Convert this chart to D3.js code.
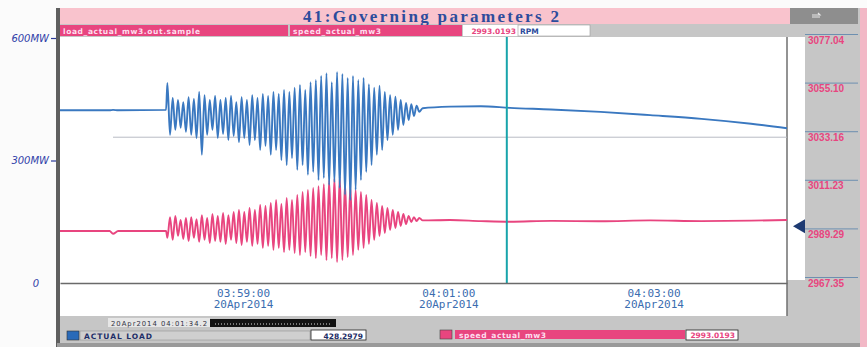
<!DOCTYPE html>
<html><head><meta charset="utf-8">
<script src="https://cdn.jsdelivr.net/npm/d3@7"></script>
<style>body{margin:0;background:#fbfbfb;} svg{display:block;}</style>
</head><body><svg id="c" width="867" height="347"></svg>
<script>
// ---------- data ----------
const title = "41:Governing parameters 2";
const loadName = "load_actual_mw3.out.sample";
const speedName = "speed_actual_mw3";
const speedUnit = "RPM";
const loadLegend = "ACTUAL LOAD";
const cursorStamp = "20Apr2014 04:01:34.2";
const cursorTime = "04:01:34.2";
const loadCursorValue = "428.2979";
const speedCursorValue = "2993.0193";
const xTickTimes = ["03:59:00", "04:01:00", "04:03:00"];
const xTickDate = "20Apr2014";
const leftTicks = [0, 300, 600];
const leftTickLabels = ["0", "300MW", "600MW"];
const rightTicks = [3077.04, 3055.10, 3033.16, 3011.23, 2989.29, 2967.35];
const gridSpeed = 3033.16;
const timeDomain = ["03:57:13", "04:04:18"];
const loadDomain = [0, 600];
const speedDomain = [2967.35, 3077.04];

const preTimes = ["03:57:13", "03:57:42", "03:57:44", "03:57:47", "03:58:15"];
const bluePre = [423, 423, 424, 423, 424];
const pinkPre = [2990.8, 2990.8, 2989.6, 2990.8, 2990.8];

const oscStart = "03:58:15";
const oscPeriod = 3.1; // seconds per cycle
const bluePeaks = [490,453,448,443,455,451,468,460,448,458,448,453,458,443,455,448,460,453,463,458,468,463,473,468,478,485,473,492,497,507,514,492,517,512,502,507,497,502,487,478,483,468,460,456,448,441,438,434];
const blueTroughs = [363,375,380,370,363,355,314,363,375,355,365,350,360,345,355,338,350,326,336,314,326,301,289,306,277,289,265,272,252,257,240,247,233,216,203,228,252,272,289,314,326,350,363,375,387,399,409,419];
const pinkPeaks = [2997.1,2997.6,2995.8,2996.7,2997.1,2996.2,2998.0,2996.7,2998.5,2997.6,2999.0,2998.0,2999.4,3000.3,2999.4,3001.2,3000.3,3002.6,3002.1,3003.5,3004.8,3003.0,3005.7,3004.8,3007.1,3008.4,3009.3,3010.2,3011.1,3012.0,3013.8,3014.7,3015.6,3012.5,3011.1,3009.3,3008.4,3007.1,3004.8,3003.5,3002.1,3001.2,3000.3,2999.4,2998.5,2997.6,2997.1,2996.7];
const pinkTroughs = [2987.7,2986.8,2988.6,2987.2,2986.3,2987.7,2985.9,2986.8,2985.4,2986.3,2985.9,2985.0,2986.8,2985.4,2984.5,2985.9,2984.1,2985.0,2983.2,2984.1,2982.3,2983.2,2981.3,2982.3,2980.9,2980.0,2981.3,2979.5,2978.6,2980.0,2977.7,2978.6,2976.8,2977.7,2979.1,2980.0,2982.3,2983.2,2985.0,2986.8,2988.6,2989.9,2991.3,2992.2,2993.1,2994.0,2994.9,2995.3];

const postTimes = ["04:00:45","04:01:01","04:01:19","04:01:36","04:02:00","04:02:29","04:02:58","04:03:28","04:03:57","04:04:18"];
const bluePost = [428, 432, 433, 429, 425, 419, 411, 402, 390, 379];
const pinkPost = [2995.6, 2995.8, 2995.3, 2995.0, 2995.4, 2995.2, 2995.6, 2995.3, 2995.5, 2995.8];

// ---------- helpers ----------
function T(s) {
  const [h, m, sec] = s.split(":");
  const secs = parseFloat(sec);
  return new Date(2014, 3, 20, +h, +m, Math.floor(secs), Math.round((secs - Math.floor(secs)) * 1000));
}
function build(preV, peaks, troughs, postV, anti) {
  const pts = preTimes.map((t, i) => [T(t), preV[i]]);
  const t0 = T(oscStart).getTime();
  peaks.forEach((p, i) => {
    const a = new Date(t0 + (i * oscPeriod + oscPeriod * 0.25) * 1000);
    const b = new Date(t0 + (i * oscPeriod + oscPeriod * 0.75) * 1000);
    if (anti) { pts.push([a, troughs[i]]); pts.push([b, p]); }
    else { pts.push([a, p]); pts.push([b, troughs[i]]); }
  });
  postTimes.forEach((t, i) => pts.push([T(t), postV[i]]));
  return pts;
}

// ---------- layout ----------
const svg = d3.select("#c");
const PX0 = 60, PX1 = 787, PY0 = 37, PY1 = 283;
const x = d3.scaleTime().domain(timeDomain.map(T)).range([PX0, PX1]);
const yL = d3.scaleLinear().domain(loadDomain).range([283, 38]);
const yR = d3.scaleLinear().domain(speedDomain).range([283, 40]);
const PINK = "#e8457f", BLUE = "#3a78c0", FRAME = "#c6c6c6";

// window frame
svg.append("rect").attr("x", 57).attr("y", 8).attr("width", 803).attr("height", 339).attr("fill", FRAME);
svg.append("rect").attr("x", 860).attr("y", 8).attr("width", 7).attr("height", 339).attr("fill", "#f2b8c6");
// title bar
svg.append("rect").attr("x", 60).attr("y", 8).attr("width", 730).attr("height", 16).attr("fill", "#f9c3cd");
svg.append("text").attr("x", 431).attr("y", 21.5).attr("text-anchor", "middle")
  .attr("font-family", "Liberation Serif, DejaVu Serif, serif").attr("font-weight", "bold")
  .attr("font-size", 17).attr("fill", "#2c4c9c").attr("textLength", 256).attr("lengthAdjust", "spacing").text(title);
svg.append("rect").attr("x", 790).attr("y", 8).attr("width", 68).attr("height", 16).attr("fill", "#8e8e8e");
svg.append("path").attr("d", "M812,15 h8 l-2,-2 M812,17 h8").attr("stroke", "#e8e8e8").attr("stroke-width", 1.2).attr("fill", "none");

// second row
const small = g => g.attr("font-family", "DejaVu Sans, sans-serif").attr("font-weight", "bold").attr("font-size", 7.5);
svg.append("rect").attr("x", 60).attr("y", 25).attr("width", 228).attr("height", 11).attr("fill", PINK);
small(svg.append("text").attr("x", 63).attr("y", 33.5).attr("fill", "#fde").attr("textLength", 137).text(loadName));
svg.append("rect").attr("x", 290).attr("y", 25).attr("width", 172).attr("height", 11).attr("fill", PINK);
small(svg.append("text").attr("x", 293).attr("y", 33.5).attr("fill", "#fde").attr("textLength", 88).text(speedName));
svg.append("rect").attr("x", 463).attr("y", 25).attr("width", 55).attr("height", 11).attr("fill", "#fff");
small(svg.append("text").attr("x", 516).attr("y", 33.5).attr("text-anchor", "end").attr("fill", PINK).text(speedCursorValue));
svg.append("rect").attr("x", 518).attr("y", 25).attr("width", 72).attr("height", 11).attr("fill", "#fff").attr("stroke", "#999").attr("stroke-width", 0.6);
small(svg.append("text").attr("x", 520).attr("y", 33.5).attr("fill", "#2c4c9c").text(speedUnit));

// plot background
svg.append("rect").attr("x", PX0).attr("y", PY0).attr("width", PX1 - PX0).attr("height", 316 - PY0).attr("fill", "#fff");
svg.append("rect").attr("x", PX1).attr("y", PY0).attr("width", 18).attr("height", 243).attr("fill", "#fff");
svg.append("line").attr("x1", PX1).attr("x2", PX1).attr("y1", PY0).attr("y2", 316).attr("stroke", "#6f6f6f").attr("stroke-width", 1.5);
svg.append("rect").attr("x", 56).attr("y", 8).attr("width", 4).attr("height", 339).attr("fill", "#5f5f5f");

// grid reference line
svg.append("line").attr("x1", 113).attr("x2", PX1).attr("y1", yR(gridSpeed)).attr("y2", yR(gridSpeed))
  .attr("stroke", "#b9bcc4").attr("stroke-width", 1);

// lines
svg.append("clipPath").attr("id", "clip").append("rect").attr("x", PX0).attr("y", PY0).attr("width", PX1 - PX0).attr("height", PY1 - PY0);
const gLines = svg.append("g").attr("clip-path", "url(#clip)");
const lineL = d3.line().x(d => x(d[0])).y(d => yL(d[1])).curve(d3.curveMonotoneX);
const lineR = d3.line().x(d => x(d[0])).y(d => yR(d[1])).curve(d3.curveMonotoneX);
gLines.append("path").datum(build(pinkPre, pinkPeaks, pinkTroughs, pinkPost, true))
  .attr("d", lineR).attr("fill", "none").attr("stroke", PINK).attr("stroke-width", 1.9).attr("stroke-linejoin", "round");
gLines.append("path").datum(build(bluePre, bluePeaks, blueTroughs, bluePost, false))
  .attr("d", lineL).attr("fill", "none").attr("stroke", BLUE).attr("stroke-width", 1.9).attr("stroke-linejoin", "round");

// cursor
const cx = x(T(cursorTime));
svg.append("line").attr("x1", cx).attr("x2", cx).attr("y1", PY0).attr("y2", PY1).attr("stroke", "#18a4ab").attr("stroke-width", 2);

// x axis
const gx = svg.append("g").attr("transform", `translate(0,${PY1})`)
  .call(d3.axisBottom(x).tickValues(xTickTimes.map(T)).tickSize(0).tickPadding(6).tickFormat(d3.timeFormat("%H:%M:%S")));
gx.select(".domain").attr("stroke", "#6a6a6a").attr("stroke-width", 1.6);
gx.selectAll(".tick text").attr("font-family", "DejaVu Sans Mono, monospace").attr("font-size", 11).attr("fill", "#3b6db0")
  .each(function () {
    const t = d3.select(this); const s = t.text(); t.text(null);
    t.append("tspan").attr("x", 0).text(s);
    t.append("tspan").attr("x", 0).attr("dy", "1.05em").text(xTickDate);
  });

// left axis (hand-written annotations)
const gl = svg.append("g").attr("transform", "translate(56,0)")
  .call(d3.axisLeft(yL).tickValues(leftTicks).tickSize(5).tickPadding(2).tickFormat((d, i) => leftTickLabels[i]));
gl.select(".domain").remove();
gl.selectAll(".tick line").attr("stroke", "#2b3a9a").attr("stroke-width", 1.2).filter(d => d === 0).remove();
gl.selectAll(".tick text").attr("font-family", "DejaVu Sans, sans-serif").attr("font-style", "italic")
  .attr("font-size", 10).attr("fill", "#3040a8").filter(d => d === 0).attr("dx", -10);

// right axis
svg.append("rect").attr("x", 805).attr("y", 24).attr("width", 53).attr("height", 292).attr("fill", FRAME);
const gr = svg.append("g").attr("transform", "translate(805,0)")
  .call(d3.axisRight(yR).tickValues(rightTicks).tickSize(0).tickPadding(3).tickFormat(d3.format(".2f")));
gr.select(".domain").remove();
gr.selectAll(".tick text").attr("font-family", "Liberation Sans, Arial, sans-serif").attr("font-weight", "bold")
  .attr("font-size", 10).attr("fill", PINK);
gr.selectAll(".tick").append("line").attr("x1", 0).attr("x2", 53).attr("y1", -6).attr("y2", -6)
  .attr("stroke", "#6d8fb0").attr("stroke-width", 1);
// speed marker triangle
const my = yR(speedCursorValue);
svg.append("path").attr("d", `M793,${my} L805,${my - 7} L805,${my + 7} Z`).attr("fill", "#1d3a72");

// bottom panel
svg.append("rect").attr("x", 108).attr("y", 318).attr("width", 102).attr("height", 9).attr("fill", "#e6e6e6");
svg.append("text").attr("x", 111).attr("y", 325.5).attr("font-family", "DejaVu Sans, sans-serif").attr("font-size", 6.8)
  .attr("fill", "#334").attr("textLength", 96).text(cursorStamp);
svg.append("rect").attr("x", 210).attr("y", 319).attr("width", 126).attr("height", 8).attr("fill", "#111");
svg.append("line").attr("x1", 215).attr("x2", 332).attr("y1", 324).attr("y2", 324).attr("stroke", "#ddd").attr("stroke-width", 1).attr("stroke-dasharray", "1,2");
svg.append("rect").attr("x", 67).attr("y", 331).attr("width", 12).attr("height", 9).attr("fill", "#2a6ab8").attr("stroke", "#333").attr("stroke-width", 0.6);
svg.append("rect").attr("x", 80).attr("y", 331).attr("width", 230).attr("height", 9).attr("fill", "#cfcfcf").attr("stroke", "#888").attr("stroke-width", 0.5);
small(svg.append("text").attr("x", 84).attr("y", 338.5).attr("fill", "#1d2d66").attr("textLength", 68).text(loadLegend));
svg.append("rect").attr("x", 311).attr("y", 330).attr("width", 55).attr("height", 10).attr("fill", "#fff").attr("stroke", "#222").attr("stroke-width", 0.8);
small(svg.append("text").attr("x", 363).attr("y", 338.5).attr("text-anchor", "end").attr("fill", "#1d2d66").text(loadCursorValue));
svg.append("rect").attr("x", 440).attr("y", 330).attr("width", 12).attr("height", 9).attr("fill", PINK).attr("stroke", "#444").attr("stroke-width", 0.6);
svg.append("rect").attr("x", 455).attr("y", 330).attr("width", 230).attr("height", 9).attr("fill", PINK);
small(svg.append("text").attr("x", 459).attr("y", 337.5).attr("fill", "#fde").attr("textLength", 87).text(speedName));
svg.append("rect").attr("x", 686).attr("y", 330).attr("width", 52).attr("height", 10).attr("fill", "#fff").attr("stroke", "#222").attr("stroke-width", 0.8);
small(svg.append("text").attr("x", 735).attr("y", 338).attr("text-anchor", "end").attr("fill", PINK).text(speedCursorValue));
svg.append("rect").attr("x", 57).attr("y", 343).attr("width", 803).attr("height", 4).attr("fill", "#9a9a9a");
</script>
</body></html>
